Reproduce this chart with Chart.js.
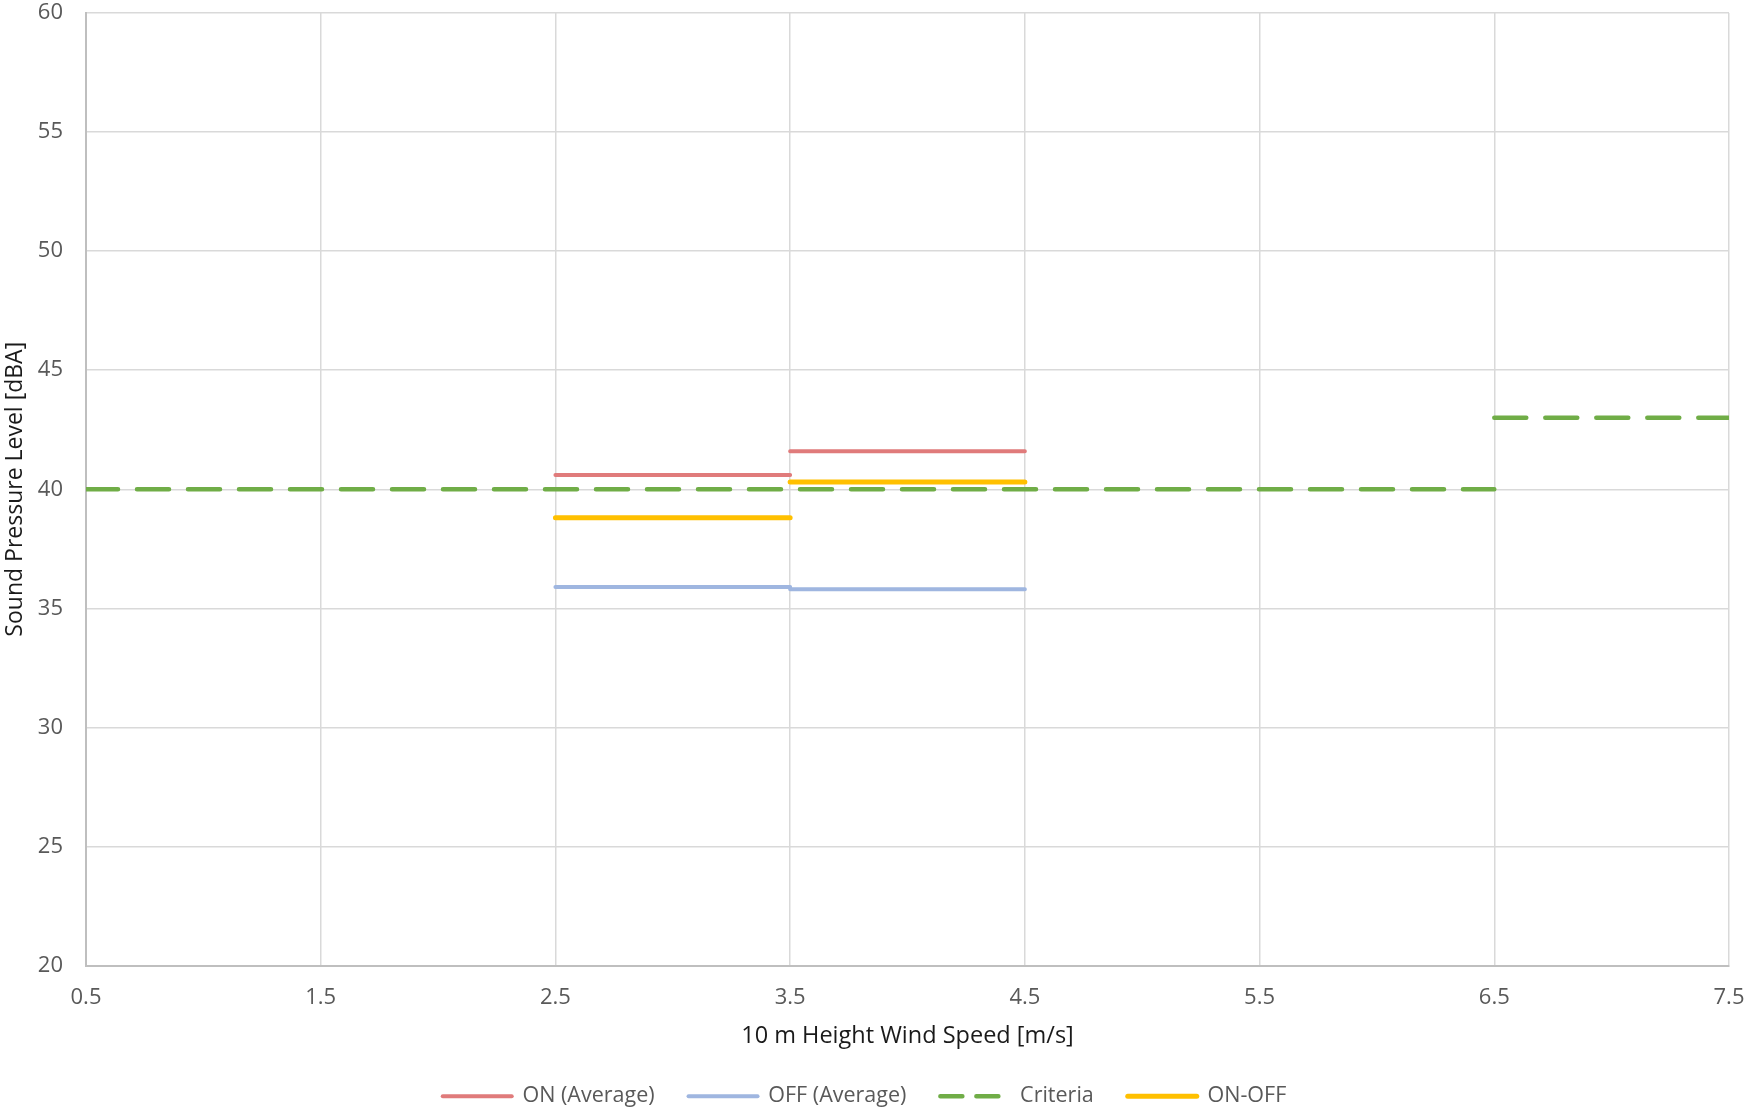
<!DOCTYPE html>
<html>
<head>
<meta charset="utf-8">
<script src="https://cdn.jsdelivr.net/npm/chart.js@4.4.1/dist/chart.umd.min.js"></script>
<style>
html,body{margin:0;padding:0;background:#fff;}
#wrap{width:1747px;height:1114px;position:relative;}
</style>
</head>
<body>
<div id="wrap"><canvas id="c" width="1747" height="1114"></canvas></div>
<script>
// ---- data ----
const binStart = [2.5, 3.5];
const binEnd = [3.5, 4.5];
const onAverage = [40.6, 41.6];
const offAverage = [35.9, 35.8];
const onMinusOff = [38.8, 40.3];
const criteriaStart = [0.5, 6.5];
const criteriaEnd = [6.5, 7.5];
const criteriaLevel = [40, 43];
const xTicks = [0.5, 1.5, 2.5, 3.5, 4.5, 5.5, 6.5, 7.5];
const yTicks = [20, 25, 30, 35, 40, 45, 50, 55, 60];
const seriesNames = ['ON (Average)', 'OFF (Average)', 'Criteria', 'ON-OFF'];

function steps(starts, ends, vals) {
  const pts = [];
  for (let i = 0; i < vals.length; i++) {
    pts.push({x: starts[i], y: vals[i]});
    pts.push({x: ends[i], y: vals[i]});
    if (i < vals.length - 1) pts.push({x: ends[i], y: null});
  }
  return pts;
}

const FONT = "'Open Sans', 'DejaVu Sans', sans-serif";
Chart.defaults.font.family = FONT;
Chart.defaults.color = '#595959';

function noPad(s) { s.paddingTop = 0; s.paddingBottom = 0; s.paddingLeft = 0; s.paddingRight = 0; }

new Chart(document.getElementById('c'), {
  type: 'line',
  data: {
    datasets: [
      {label: seriesNames[0], data: steps(binStart, binEnd, onAverage), borderColor: '#E07B7B', backgroundColor: '#E07B7B', borderWidth: 4, order: 2},
      {label: seriesNames[1], data: steps(binStart, binEnd, offAverage), borderColor: '#9FB6E0', backgroundColor: '#9FB6E0', borderWidth: 4, order: 3},
      {label: seriesNames[2], data: steps(criteriaStart, criteriaEnd, criteriaLevel), borderColor: '#70AD47', backgroundColor: '#70AD47', borderWidth: 4.5, borderDash: [32, 19], order: 4},
      {label: seriesNames[3], data: steps(binStart, binEnd, onMinusOff), borderColor: '#FFC000', backgroundColor: '#FFC000', borderWidth: 5, order: 1}
    ].map(d => Object.assign({pointRadius: 0, pointHoverRadius: 0, spanGaps: false, borderCapStyle: 'round', borderJoinStyle: 'round', tension: 0, fill: false}, d))
  },
  options: {
    responsive: false,
    animation: false,
    events: [],
    layout: {padding: {left: 0, right: 18, top: 13, bottom: -3}},
    plugins: {
      tooltip: {enabled: false},
      legend: {
        position: 'bottom',
        labels: {
          usePointStyle: true,
          pointStyle: 'line',
          pointStyleWidth: 69,
          boxHeight: 21,
          padding: 34,
          color: '#595959',
          font: {size: 21.5, family: FONT},
          generateLabels(chart) {
            return chart.data.datasets.map((ds, i) => ({
              text: ds.label,
              datasetIndex: i,
              fillStyle: ds.borderColor,
              strokeStyle: ds.borderColor,
              lineWidth: ds.borderWidth,
              lineDash: ds.borderDash ? [22, 14] : [],
              lineCap: 'round',
              pointStyle: 'line',
              fontColor: '#595959',
              hidden: false
            }));
          }
        }
      }
    },
    scales: {
      x: {
        type: 'linear',
        min: 0.5,
        max: 7.5,
        afterBuildTicks(s) { s.ticks = xTicks.map(v => ({value: v})); },
        afterFit(s) { s.height = 86; noPad(s); },
        grid: {color: '#D9D9D9', lineWidth: 1.5, drawTicks: false},
        border: {color: '#BFBFBF', width: 2},
        ticks: {padding: 19, color: '#595959', font: {size: 22}, maxRotation: 0, autoSkip: false, callback: v => String(v)},
        title: {display: true, text: '10 m Height Wind Speed [m/s]', color: '#1a1a1a', font: {size: 23.5}, padding: {top: 0, bottom: 1}}
      },
      y: {
        type: 'linear',
        min: 20,
        max: 60,
        afterBuildTicks(s) { s.ticks = yTicks.map(v => ({value: v})); },
        afterFit(s) { s.width = 86; noPad(s); },
        grid: {color: '#D9D9D9', lineWidth: 1.5, drawTicks: false},
        border: {color: '#BFBFBF', width: 2},
        ticks: {padding: 23, color: '#595959', font: {size: 22}, callback: v => String(v)},
        title: {display: true, text: 'Sound Pressure Level [dBA]', color: '#1a1a1a', font: {size: 23}, padding: {top: 2, bottom: 0}}
      }
    }
  }
});
</script>
</body>
</html>
